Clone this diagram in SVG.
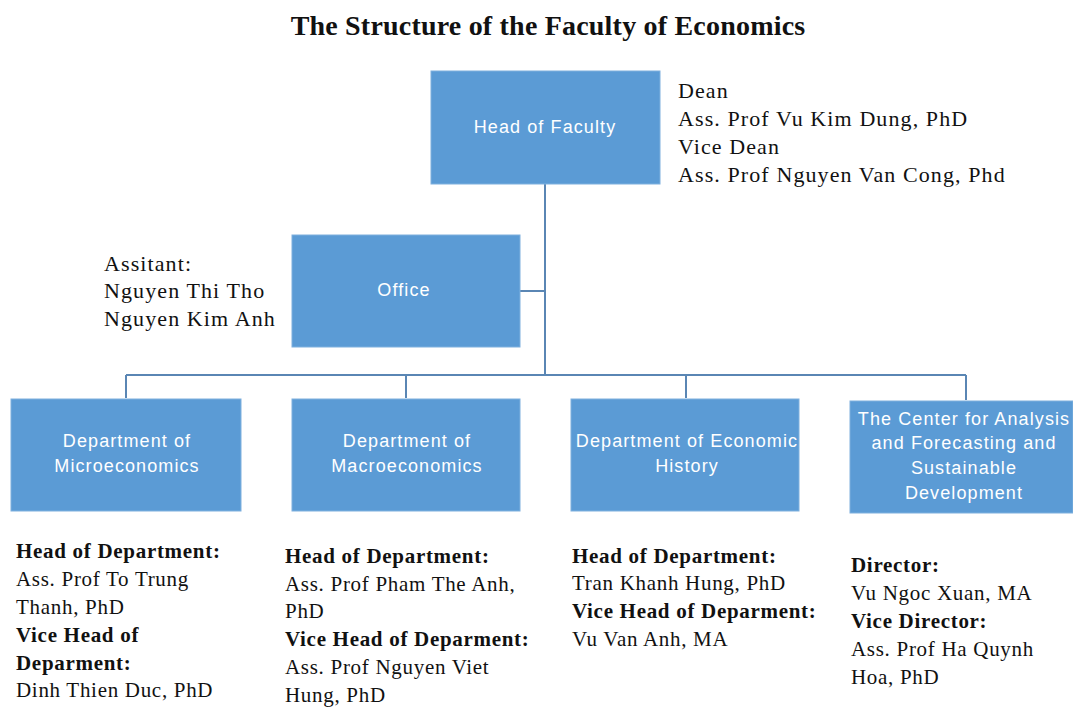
<svg xmlns="http://www.w3.org/2000/svg" width="1073" height="707" viewBox="0 0 1073 707">
<style>
.box{fill:#5b9bd5;stroke:#7fb0de;stroke-width:1}
.bt{font-family:"Liberation Sans",Arial,sans-serif;font-size:18px;letter-spacing:1.1px;fill:#ffffff;text-anchor:middle}
.tx{font-family:"Liberation Serif","Times New Roman",serif;font-size:21px;letter-spacing:0.7px;fill:#111111}
.tb{font-weight:bold}
.big{font-size:22px;letter-spacing:1.1px}
.conn{stroke:#5a86b4;stroke-width:2;fill:none}
</style>
<rect width="1073" height="707" fill="#ffffff"/>
<text x="548" y="35" font-family="Liberation Serif,'Times New Roman',serif" font-size="28" letter-spacing="0.2" font-weight="bold" text-anchor="middle" fill="#111111">The Structure of the Faculty of Economics</text>
<g id="connectors">
<path class="conn" d="M545 184V375M520 291H545M126 375H966M126 375V398M406 375V398M686 375V398M966 375V400"/>
</g>
<g id="head">
<rect class="box" x="431" y="71" width="229" height="113"/>
<text class="bt" x="545" y="133">Head of Faculty</text>
<text class="tx big" x="678" y="98">Dean</text>
<text class="tx big" x="678" y="126">Ass. Prof Vu Kim Dung, PhD</text>
<text class="tx big" x="678" y="154">Vice Dean</text>
<text class="tx big" x="678" y="182">Ass. Prof Nguyen Van Cong, Phd</text>
</g>
<g id="office">
<rect class="box" x="292" y="235" width="228" height="112"/>
<text class="bt" x="404" y="296">Office</text>
<text class="tx big" x="104" y="271">Assitant:</text>
<text class="tx big" x="104" y="298">Nguyen Thi Tho</text>
<text class="tx big" x="104" y="326">Nguyen Kim Anh</text>
</g>
<g id="micro">
<rect class="box" x="11" y="399" width="230" height="112"/>
<text class="bt" x="127" y="447">Department of</text>
<text class="bt" x="127" y="472">Microeconomics</text>
<text class="tx tb" x="16" y="558">Head of Department:</text>
<text class="tx" x="16" y="586">Ass. Prof To Trung</text>
<text class="tx" x="16" y="614">Thanh, PhD</text>
<text class="tx tb" x="16" y="642">Vice Head of</text>
<text class="tx tb" x="16" y="670">Deparment:</text>
<text class="tx" x="16" y="697">Dinh Thien Duc, PhD</text>
</g>
<g id="macro">
<rect class="box" x="292" y="399" width="228" height="112"/>
<text class="bt" x="407" y="447">Department of</text>
<text class="bt" x="407" y="472">Macroeconomics</text>
<text class="tx tb" x="285" y="563">Head of Department:</text>
<text class="tx" x="285" y="591">Ass. Prof Pham The Anh,</text>
<text class="tx" x="285" y="618">PhD</text>
<text class="tx tb" x="285" y="646">Vice Head of Deparment:</text>
<text class="tx" x="285" y="674">Ass. Prof Nguyen Viet</text>
<text class="tx" x="285" y="702">Hung, PhD</text>
</g>
<g id="history">
<rect class="box" x="571" y="399" width="228" height="112"/>
<text class="bt" x="687" y="447">Department of Economic</text>
<text class="bt" x="687" y="472">History</text>
<text class="tx tb" x="572" y="563">Head of Department:</text>
<text class="tx" x="572" y="590">Tran Khanh Hung, PhD</text>
<text class="tx tb" x="572" y="618">Vice Head of Deparment:</text>
<text class="tx" x="572" y="646">Vu Van Anh, MA</text>
</g>
<g id="center">
<rect class="box" x="850" y="401" width="223" height="112"/>
<text class="bt" x="964" y="425">The Center for Analysis</text>
<text class="bt" x="964" y="449">and Forecasting and</text>
<text class="bt" x="964" y="474">Sustainable</text>
<text class="bt" x="964" y="499">Development</text>
<text class="tx tb" x="851" y="572">Director:</text>
<text class="tx" x="851" y="600">Vu Ngoc Xuan, MA</text>
<text class="tx tb" x="851" y="628">Vice Director:</text>
<text class="tx" x="851" y="656">Ass. Prof Ha Quynh</text>
<text class="tx" x="851" y="684">Hoa, PhD</text>
</g>
</svg>
